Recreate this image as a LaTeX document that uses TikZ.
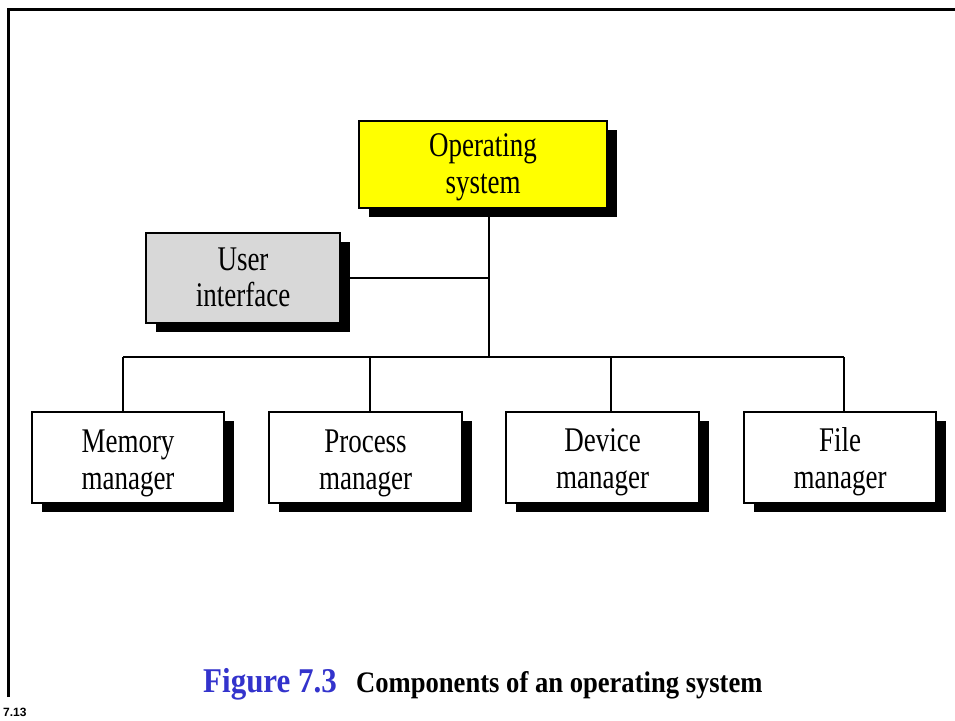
\documentclass[tikz,border=0pt]{standalone}
\usepackage{fontspec}
\usepackage{graphicx}
\setmainfont{Liberation Serif}
\newfontfamily\arialfont{Liberation Sans}
\usetikzlibrary{calc,shadows}
\definecolor{osyellow}{RGB}{255,255,0}
\definecolor{uigray}{RGB}{216,216,216}
\definecolor{figblue}{RGB}{51,51,204}
\newcommand{\tallt}[1]{\scalebox{1}[1.28]{#1}}
\newcommand{\tallc}[1]{\scalebox{1}[1.12]{#1}}
% two lines of box text, lowered by #1
\newcommand{\twol}[3]{\raisebox{#1}[\height][\depth]{\begin{tabular}{@{}c@{}}\tallt{#2}\\\tallt{#3}\end{tabular}}}
\tikzset{
  compbox/.style={draw=black, line width=1.8pt, align=center, inner sep=0pt,
    font=\fontsize{27}{36.5}\selectfont,
    minimum width=193pt, minimum height=90pt,
    general shadow={fill=black, shadow xshift=10pt, shadow yshift=-9pt}},
  conn/.style={draw=black, line width=1.5pt},
}
\begin{document}
\begin{tikzpicture}[x=1pt,y=-1pt]
\useasboundingbox (0,0) rectangle (955,720);
% frame
\draw[line width=2.5pt] (8.7,697) -- (8.7,9.7) -- (956,9.7);
% boxes
\node[compbox, fill=osyellow, minimum width=248pt, minimum height=87pt] (os) at (483,164.5) {\twol{-3pt}{Operating}{system}};
\node[compbox, fill=uigray, minimum width=194pt] (ui) at (243,278) {\twol{-3pt}{User}{interface}};
\node[compbox, fill=white, minimum width=192pt, minimum height=91pt] (mem) at (128,457.5) {\twol{-6pt}{Memory}{manager}};
\node[compbox, fill=white, minimum height=91pt] (proc) at (365.5,457.5) {\twol{-6pt}{Process}{manager}};
\node[compbox, fill=white, minimum height=91pt] (dev) at (602.5,457.5) {\twol{-5pt}{Device}{manager}};
\node[compbox, fill=white, minimum width=192pt, minimum height=91pt] (file) at (840,457.5) {\twol{-5pt}{File}{manager}};
% connectors
\coordinate (bus) at (489,357);
\coordinate (d1) at (123,357);
\coordinate (d2) at (370,357);
\coordinate (d3) at (611,357);
\coordinate (d4) at (844,357);
\draw[conn] (os.south -| bus) -- (bus);
\draw[conn] (ui.east) -- (ui.east -| bus);
\draw[conn] (d1) -- (d4);
\draw[conn] (d1) -- (d1 |- mem.north);
\draw[conn] (d2) -- (d2 |- proc.north);
\draw[conn] (d3) -- (d3 |- dev.north);
\draw[conn] (d4) -- (d4 |- file.north);
% caption
\node[anchor=base west, inner sep=0pt, text=figblue, font=\fontsize{31}{31}\selectfont\bfseries] (figno) at (203,692) {\tallc{Figure 7.3}};
\node[anchor=base west, inner sep=0pt, font=\fontsize{26.6}{26.6}\selectfont\bfseries] (figtitle) at (356,692) {\tallc{Components of an operating system}};
\node[anchor=base west, inner sep=0pt, font=\arialfont\fontsize{12}{12}\selectfont\bfseries] (pageno) at (3,716) {7.13};
\end{tikzpicture}
\end{document}
